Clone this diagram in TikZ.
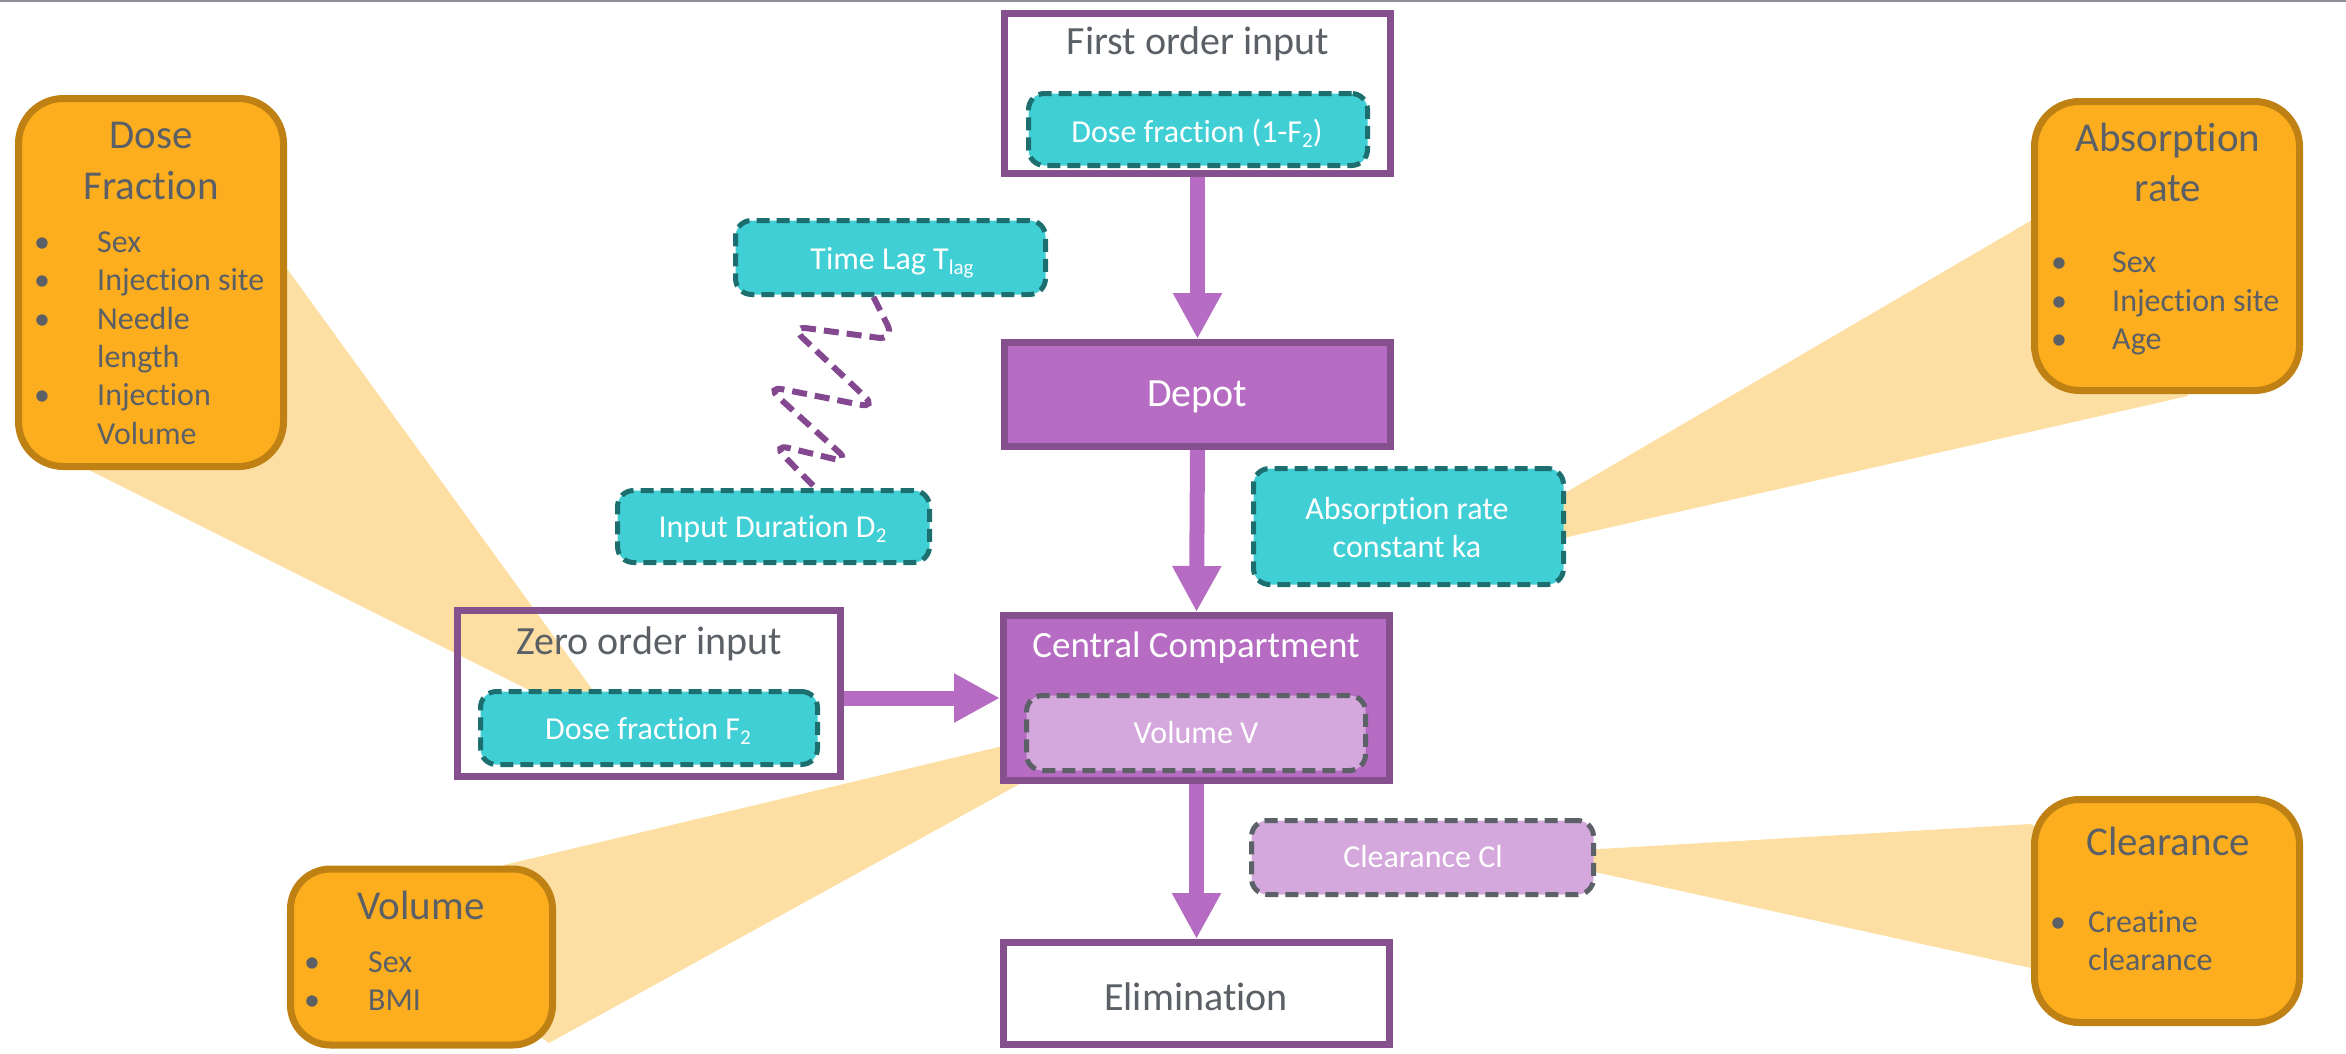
\documentclass[tikz,border=0pt]{standalone}
\usepackage{fontspec}
\setmainfont{Carlito}[Ligatures=NoCommon]
\usetikzlibrary{arrows.meta}
\definecolor{orfill}{HTML}{FCAE1E}
\definecolor{ordraw}{HTML}{BF8114}
\definecolor{wedgec}{HTML}{FDDFA4}
\definecolor{pfill}{HTML}{B56CC2}
\definecolor{pdraw}{HTML}{86508F}
\definecolor{lpfill}{HTML}{D4A8DC}
\definecolor{tfill}{HTML}{40CFD5}
\definecolor{tdraw}{HTML}{1D6E6F}
\definecolor{gtext}{HTML}{5B5F66}
\definecolor{gdash}{HTML}{5C6067}
\definecolor{coilc}{HTML}{834890}
\definecolor{topc}{HTML}{8C9096}
\newcommand{\subs}[1]{\raisebox{-5pt}{\fontsize{21}{21}\selectfont #1}}
\begin{document}
\begin{tikzpicture}[x=1pt,y=-1pt,
  obox/.style={draw=ordraw, fill=orfill, line width=7pt, rounded corners=45pt, inner sep=0pt},
  pbox/.style={draw=pdraw, line width=7pt, inner sep=0pt, minimum width=386pt},
  dbox/.style={line width=5pt, dash pattern=on 13pt off 7pt, rounded corners=16pt, inner sep=0pt},
  tbox/.style={dbox, draw=tdraw, fill=tfill},
  lbox/.style={dbox, draw=gdash, fill=lpfill},
  tt/.style={text=gtext, font=\fontsize{40}{48}\selectfont, anchor=base, inner sep=0pt},
  ot/.style={text=gtext, font=\fontsize{41}{49}\selectfont, anchor=base, inner sep=0pt},
  wt/.style={text=white, font=\fontsize{32}{38}\selectfont, anchor=base, inner sep=0pt},
  bt/.style={text=gtext, font=\fontsize{32}{38}\selectfont, anchor=base west, inner sep=0pt},
  bu/.style={text=gtext, font=\fontsize{32}{38}\selectfont, anchor=base, inner sep=0pt},
  flow/.style={draw=pfill, line width=15pt, -{Triangle[width=46pt,length=46pt]}},
  coilst/.style={draw=coilc, line width=6pt, dash pattern=on 15pt off 8pt, rounded corners=17pt}
]
\useasboundingbox (0,0) rectangle (2346,1053);
\draw[topc, line width=2.5pt] (0,1) -- (2346,1);

% callout wedges
\fill[wedgec] (629,740) -- (288,270) -- (151,282) -- (89,470) -- cycle;
\fill[wedgec] (1440,566) -- (2032,220) -- (2167,246) -- (2188,396) -- cycle;
\fill[wedgec] (1154,710) -- (504,865) -- (421,957) -- (549,1043) -- cycle;
\fill[wedgec] (1513,854) -- (2031,824) -- (2167,911) -- (2031,968) -- cycle;

% orange boxes
\node[obox, minimum width=265pt, minimum height=368pt] (df) at (151,282.5) {};
\node[obox, minimum width=265pt, minimum height=289pt] (ar) at (2167,246) {};
\node[obox, minimum width=262pt, minimum height=176pt, rounded corners=40pt] (vo) at (421.5,957) {};
\node[obox, minimum width=265pt, minimum height=223pt] (cl) at (2167,911) {};

% purple boxes
\node[pbox, fill=white, minimum height=160pt] (fo) at (1197.5,93.5) {};
\node[pbox, fill=pfill, minimum height=104pt] (depot) at (1197.5,394.5) {};
\node[pbox, fill=pfill, minimum height=165pt] (central) at (1196.5,698) {};
\node[pbox, fill=white, minimum height=102pt] (elim) at (1196.5,993.5) {};
\node[pbox, minimum width=383pt, minimum height=166pt] (zero) at (649,693.5) {};

% dashed parameter boxes
\node[tbox, minimum width=339pt, minimum height=72pt] (fod) at (1198,129.5) {};
\node[tbox, minimum width=310pt, minimum height=74pt] (tl) at (890.5,257.5) {};
\node[tbox, minimum width=312pt, minimum height=72pt] (id) at (773.5,526.5) {};
\node[tbox, minimum width=310pt, minimum height=116pt] (ka) at (1408.5,526.5) {};
\node[tbox, minimum width=337pt, minimum height=73pt] (f2) at (649,728) {};
\node[lbox, minimum width=339pt, minimum height=75pt] (vv) at (1196,733) {};
\node[lbox, minimum width=342pt, minimum height=74pt] (clb) at (1422.5,857.5) {};

% flow arrows
\draw[flow] (fo.south) -- (depot.north);
\draw[flow] (depot.south) -- (central.north);
\draw[flow] (central.south) -- (elim.north);
\draw[flow] (zero.east |- central.west) -- (central.west);

% coil connector
\draw[coilst] ([xshift=-17pt]tl.south) -- (895,340) -- (790,326) -- (877,408) -- (766,386) -- (851,463) -- (772,444) -- ([xshift=42pt]id.north);

% box titles
\node[tt] (fot) at (1198,54) {First order input};
\node[tt, text=white] (dept) at (1197,406) {Depot};
\node[tt] (zerot) at (649,654) {Zero order input};
\node[tt, text=white, font=\fontsize{37}{44}\selectfont] (centt) at (1196,657) {Central Compartment};
\node[tt] (elimt) at (1196,1010) {Elimination};

% parameter texts
\node[wt] (fodt) at (1197,142) {Dose fraction (1-F\subs{2})};
\node[wt] (tlt) at (892,269) {Time Lag T\subs{lag}};
\node[wt] (idt) at (772.5,537) {Input Duration D\subs{2}};
\node[wt] (kat1) at (1407,519) {Absorption rate};
\node[wt] (kat2) at (1407,557) {constant ka};
\node[wt] (f2t) at (648,739) {Dose fraction F\subs{2}};
\node[wt] (vvt) at (1196,743) {Volume V};
\node[wt] (clbt) at (1423,867) {Clearance Cl};

% covariate box: Dose Fraction
\node[ot] (dft1) at (151,148) {Dose};
\node[ot] (dft2) at (151,199) {Fraction};
\node[bu] (dfb1) at (42,252) {•};
\node[bu] (dfb2) at (42,290) {•};
\node[bu] (dfb3) at (42,329) {•};
\node[bu] (dfb4) at (42,405) {•};
\node[bt] (dfl1) at (97,252) {Sex};
\node[bt] (dfl2) at (97,290) {Injection site};
\node[bt] (dfl3) at (97,329) {Needle};
\node[bt] (dfl4) at (97,367) {length};
\node[bt] (dfl5) at (97,405) {Injection};
\node[bt] (dfl6) at (97,444) {Volume};

% covariate box: Absorption rate
\node[ot] (art1) at (2168,151) {Absorption};
\node[ot] (art2) at (2168,201) {rate};
\node[bu] (arb1) at (2059,272) {•};
\node[bu] (arb2) at (2059,311) {•};
\node[bu] (arb3) at (2059,349) {•};
\node[bt] (arl1) at (2112,272) {Sex};
\node[bt] (arl2) at (2112,311) {Injection site};
\node[bt] (arl3) at (2112,349) {Age};

% covariate box: Clearance
\node[ot] (clt1) at (2168,855) {Clearance};
\node[bu] (clbu1) at (2058,932) {•};
\node[bt] (cll1) at (2088,932) {Creatine};
\node[bt] (cll2) at (2088,970) {clearance};

% covariate box: Volume
\node[ot] (vot1) at (421,919) {Volume};
\node[bu] (vob1) at (312,972) {•};
\node[bu] (vob2) at (312,1010) {•};
\node[bt] (vol1) at (368,972) {Sex};
\node[bt] (vol2) at (368,1010) {BMI};
\end{tikzpicture}
\end{document}
